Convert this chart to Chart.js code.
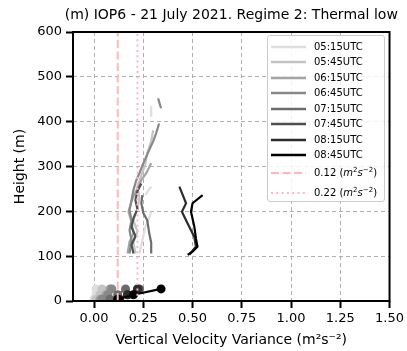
<!DOCTYPE html>
<html>
<head>
<meta charset="utf-8">
<script src="https://cdn.jsdelivr.net/npm/chart.js@4/dist/chart.umd.min.js"></script>
<style>
  html,body{margin:0;padding:0;background:#fff;}
  #wrap{position:relative;width:407px;height:351px;}
  #legend{position:absolute;left:267px;top:35px;width:118px;height:167px;box-sizing:border-box;
    border:1px solid #cccccc;border-radius:3px;background:rgba(255,255,255,0.85);
    font-family:"DejaVu Sans",sans-serif;font-size:10px;color:#000;}
  .row{position:absolute;left:0;height:14px;width:116px;}
  .row svg{position:absolute;left:3px;top:0;}
  .row span{position:absolute;left:46px;top:50%;transform:translateY(-50%);white-space:nowrap;line-height:12px;}
  sup{font-size:7px;vertical-align:4px;line-height:0;}
</style>
</head>
<body>
<div id="wrap">
  <canvas id="c" width="407" height="351"></canvas>
  <div id="legend"></div>
</div>
<script>
// ---------------- data ----------------
const titleText = "(m) IOP6 - 21 July 2021. Regime 2: Thermal low";
const xLabel = "Vertical Velocity Variance (m\u00B2s\u207B\u00B2)";
const yLabel = "Height (m)";
const times = ["05:15UTC","05:45UTC","06:15UTC","06:45UTC","07:15UTC","07:45UTC","08:15UTC","08:45UTC"];
const timeColors = ["#dedede","#c4c4c4","#a4a4a4","#888888","#6c6c6c","#4e4e4e","#2c2c2c","#000000"];
const xTicks = [0, 0.25, 0.5, 0.75, 1.0, 1.25, 1.5];
const yTicks = [0, 100, 200, 300, 400, 500, 600];

// profiles (height m, variance m2 s-2); null = gap in record
const h0515 = [106,125,145,165,185,199,215,236,255,280,411,435];
const v0515 = [0.23,0.24,0.25,0.26,0.28,0.29,null,0.26,0.29,null,0.29,0.29];
const h0545 = [106,130,155,180,205,230,255,280,305,330,356,381];
const v0545 = [0.21,0.20,0.22,0.20,0.22,0.23,0.22,0.24,0.26,0.27,0.29,0.30];
const h0615 = [106,132,151,177,199,222,240,255,270,285,307];
const v0615 = [0.17,0.18,0.20,0.19,0.175,0.19,0.207,0.224,0.24,0.265,0.29];
const h0645 = [106,136,158,180,203,225,248,270,285,307,322,337,356,374,396,412,430,452];
const v0645 = [0.18,0.19,0.18,0.19,0.18,0.19,0.20,0.215,0.23,0.25,0.265,0.28,0.30,0.315,0.33,null,0.34,0.325];
const h0715 = [106,130,151,166,180,196,218,236];
const v0715 = [0.29,0.29,0.28,0.275,0.27,0.25,0.24,0.245];
const h0745 = [106,125,145,165,185,205,225,245,262];
const v0745 = [0.20,0.19,0.21,0.19,0.20,0.22,0.21,0.22,0.24];
const h0815 = [103,121,143,173,199,218,255];
const v0815 = [0.483,0.517,0.509,0.475,0.446,0.467,0.433];
const h0845 = [103,110,121,140,166,199,218,236];
const v0845 = [0.475,0.50,0.525,0.517,0.509,0.492,0.50,0.551];

// near-surface observations
const hSurf = [4, 14, 27];
const vSurf0515 = [0.00,0.01,0.01];
const vSurf0545 = [0.01,0.03,0.04];
const vSurf0615 = [0.03,0.06,0.08];
const vSurf0645 = [0.04,0.07,0.09];
const vSurf0715 = [0.08,0.12,0.16];
const vSurf0745 = [0.12,0.17,0.23];
const vSurf0815 = [0.13,0.17,0.22];
const vSurf0845 = [0.12,0.20,0.34];

// threshold lines
const thresholds = [0.12, 0.22];
const thresholdLabels = ["0.12", "0.22"];

// ---------------- build ----------------
const profH = [h0515,h0545,h0615,h0645,h0715,h0745,h0815,h0845];
const profV = [v0515,v0545,v0615,v0645,v0715,v0745,v0815,v0845];
const surfV = [vSurf0515,vSurf0545,vSurf0615,vSurf0645,vSurf0715,vSurf0745,vSurf0815,vSurf0845];
const pink = "#ffb6c1";
const datasets = [];
times.forEach((t,i)=>{
  datasets.push({
    label: t,
    data: profH[i].map((h,k)=>({x: profV[i][k], y: h})),
    borderColor: timeColors[i], backgroundColor: timeColors[i],
    borderWidth: 2.2, pointRadius: 0, showLine: true, spanGaps: false, order: 10-i
  });
  datasets.push({
    label: t + " surface",
    data: hSurf.map((h,k)=>({x: surfV[i][k], y: h})),
    borderColor: timeColors[i], backgroundColor: timeColors[i],
    borderWidth: 2.2, pointRadius: 4.5, pointBorderWidth: 0, showLine: true, order: 10-i
  });
});
const dashes = [[8,3.5],[2,3.3]];
thresholds.forEach((v,i)=>{
  datasets.push({
    label: thresholdLabels[i],
    data: [{x: v, y: 0}, {x: v, y: 600}],
    borderColor: pink, borderWidth: 2, borderDash: dashes[i], pointRadius: 0, showLine: true, order: 1
  });
});

const frame = {
  id: 'frame',
  afterDatasetsDraw(chart){
    const {ctx, chartArea: a} = chart;
    ctx.save();
    ctx.strokeStyle = '#000'; ctx.lineWidth = 2;
    ctx.strokeRect(a.left, a.top, a.right - a.left, a.bottom - a.top);
    ctx.restore();
  },
  afterDraw(chart){
    const {ctx, chartArea: a} = chart;
    ctx.save();
    ctx.fillStyle = '#000';
    ctx.font = '14px "DejaVu Sans"';
    ctx.textAlign = 'center'; ctx.textBaseline = 'middle';
    ctx.fillText(titleText, (a.left + a.right)/2, 15);
    ctx.restore();
  }
};

const gridCommon = {
  color: '#b0b0b0', lineWidth: 1,
  drawTicks: true, tickLength: 7, tickColor: '#000', tickWidth: 2, tickBorderDash: [1,0]
};
const borderCommon = { display: false, dash: [4,3] };

new Chart(document.getElementById('c'), {
  type: 'scatter',
  data: { datasets },
  plugins: [frame],
  options: {
    responsive: false, animation: false, devicePixelRatio: 1,
    layout: { padding: { top: 32, right: 16, left: 0, bottom: 0 } },
    plugins: { legend: { display: false }, tooltip: { enabled: false }, title: { display: false } },
    scales: {
      x: {
        type: 'linear', min: -0.107, max: 1.5,
        afterFit(s){ s.height = 50; },
        afterBuildTicks(s){ s.ticks = xTicks.map(v=>({value: v})); },
        ticks: { font: { family: 'DejaVu Sans', size: 13 }, color: '#000', padding: 3,
                 callback: v => Number(v).toFixed(2), maxRotation: 0, autoSkip: false },
        grid: gridCommon,
        border: borderCommon,
        title: { display: true, text: xLabel, color: '#000',
                 font: { family: 'DejaVu Sans', size: 14 }, padding: { top: 0, bottom: 2.6 } }
      },
      y: {
        type: 'linear', min: 0, max: 600,
        afterFit(s){ s.width = 73; },
        afterBuildTicks(s){ s.ticks = yTicks.map(v=>({value: v})); },
        ticks: { font: { family: 'DejaVu Sans', size: 13 }, color: '#000', padding: 4, autoSkip: false },
        grid: gridCommon,
        border: borderCommon,
        title: { display: true, text: yLabel, color: '#000',
                 font: { family: 'DejaVu Sans', size: 14 }, padding: { top: 12, bottom: 0 } }
      }
    }
  }
});

// ---------------- legend (HTML) ----------------
const leg = document.getElementById('legend');
const rowCenters = [10.7,26.2,41.7,57.2,72.7,88.2,103.7,119.2,136.7,156.7];
const items = times.map((t,i)=>({text: t, color: timeColors[i], dash: null}))
  .concat(thresholdLabels.map((t,i)=>({html: t + ' (<i>m</i><sup>2</sup><i>s</i><sup>\u22122</sup>)', color: pink, dash: dashes[i]})));
items.forEach((it,i)=>{
  const r = document.createElement('div');
  r.className = 'row';
  r.style.top = (rowCenters[i] - 7) + 'px';
  const dash = it.dash ? `stroke-dasharray="${it.dash.join(',')}"` : '';
  r.innerHTML = `<svg width="36" height="14"><line x1="0" y1="7" x2="35" y2="7" stroke="${it.color}" stroke-width="${it.dash?2:2.6}" ${dash}/></svg>` +
    `<span>${it.html ? it.html : it.text}</span>`;
  leg.appendChild(r);
});
</script>
</body>
</html>
